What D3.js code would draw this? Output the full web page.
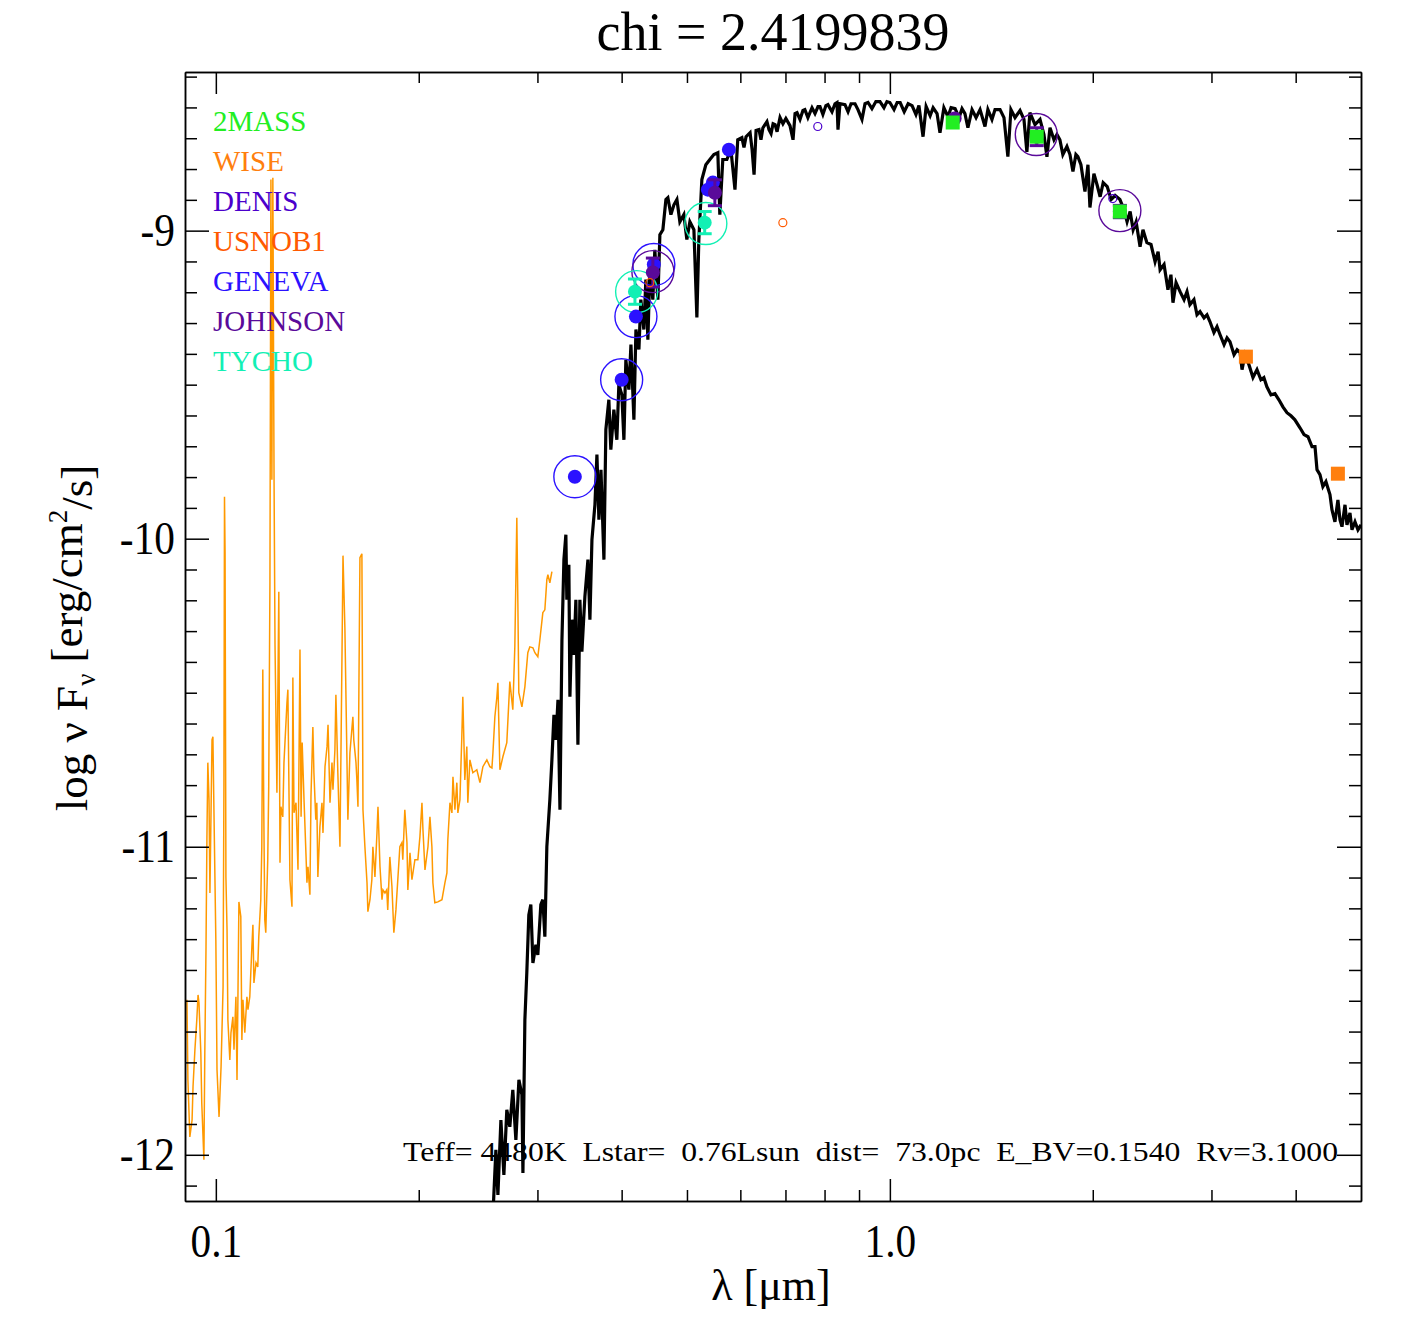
<!DOCTYPE html>
<html>
<head>
<meta charset="utf-8">
<script src="https://cdn.jsdelivr.net/npm/d3@7"></script>
<style>
  body { margin: 0; background: #fff; }
  svg text { font-family: "Liberation Serif", "Times New Roman", serif; }
</style>
</head>
<body>
<svg id="sed" width="1417" height="1337"></svg>
<script>
// ---- data (wavelength in micron, log nu F_nu) ----
const titleText = "chi = 2.4199839";
const paramText = "Teff= 4480K  Lstar=  0.76Lsun  dist=  73.0pc  E_BV=0.1540  Rv=3.1000";

const xMajorTicks = [0.1, 1.0];
const xMinorTicks = [0.2, 0.3, 0.4, 0.5, 0.6, 0.7, 0.8, 0.9, 2, 3, 4];
const yMajorTicks = [-12, -11, -10, -9];

const surveys = ["2MASS", "WISE", "DENIS", "USNOB1", "GENEVA", "JOHNSON", "TYCHO"];
const surveyColors = ["#22ee22", "#ff7f0e", "#4b00cc", "#ff5a00", "#2b12ff", "#5a0a9a", "#12f0b4"];

// model atmosphere (black)
const modelSpec = [
  [0.2577,-12.195],[0.2603,-11.984],[0.2621,-12.130],[0.2648,-11.887],[0.2675,-12.065],[0.2702,-11.854],
  [0.2730,-11.909],[0.2758,-11.789],[0.2787,-11.952],[0.2816,-11.757],[0.2845,-11.805],[0.2855,-12.059],
  [0.2874,-11.562],[0.2893,-11.409],[0.2913,-11.221],[0.2933,-11.188],[0.2954,-11.377],[0.2984,-11.318],
  [0.3004,-11.351],[0.3035,-11.188],[0.3056,-11.172],[0.3077,-11.292],[0.3098,-11.000],[0.3130,-10.848],
  [0.3152,-10.718],[0.3174,-10.572],[0.3196,-10.653],[0.3218,-10.523],[0.3240,-10.880],[0.3262,-10.328],
  [0.3284,-10.068],[0.3306,-9.987],[0.3317,-10.198],[0.3340,-10.085],[0.3352,-10.513],[0.3375,-10.263],
  [0.3398,-10.377],[0.3421,-10.198],[0.3445,-10.669],[0.3468,-10.198],[0.3492,-10.367],[0.3528,-10.188],
  [0.3565,-10.068],[0.3589,-10.263],[0.3614,-10.003],[0.3651,-9.890],[0.3676,-9.727],[0.3701,-9.938],
  [0.3727,-9.776],[0.3765,-10.068],[0.3790,-9.646],[0.3829,-9.549],[0.3855,-9.711],[0.3895,-9.581],
  [0.3935,-9.679],[0.3962,-9.500],[0.4003,-9.533],[0.4031,-9.679],[0.4058,-9.419],[0.4100,-9.516],
  [0.4129,-9.370],[0.4171,-9.614],[0.4200,-9.321],[0.4243,-9.386],[0.4271,-9.224],[0.4315,-9.321],
  [0.4345,-9.159],[0.4375,-9.354],[0.4405,-9.127],[0.4450,-9.224],[0.4480,-9.062],[0.4527,-9.224],
  [0.4558,-9.013],[0.4605,-8.997],[0.4653,-8.899],[0.4684,-8.893],[0.4733,-8.948],[0.4782,-8.916],
  [0.4831,-8.899],[0.4880,-8.971],[0.4947,-8.948],[0.4998,-9.029],[0.5050,-8.971],[0.5120,-8.997],
  [0.5172,-9.282],[0.5207,-9.029],[0.5261,-8.834],[0.5333,-8.786],[0.5407,-8.769],[0.5481,-8.753],
  [0.5556,-8.747],[0.5594,-8.948],[0.5651,-8.769],[0.5730,-8.769],[0.5810,-8.737],[0.5891,-8.867],
  [0.5947,-8.705],[0.6032,-8.698],[0.6075,-8.730],[0.6118,-8.695],[0.6203,-8.682],[0.6246,-8.737],
  [0.6288,-8.818],[0.6331,-8.675],[0.6395,-8.672],[0.6438,-8.705],[0.6481,-8.666],[0.6571,-8.646],
  [0.6617,-8.672],[0.6664,-8.685],[0.6710,-8.653],[0.6756,-8.656],[0.6802,-8.679],[0.6871,-8.633],
  [0.6940,-8.653],[0.7010,-8.636],[0.7109,-8.659],[0.7183,-8.705],[0.7233,-8.620],[0.7282,-8.617],
  [0.7356,-8.639],[0.7431,-8.610],[0.7480,-8.607],[0.7558,-8.633],[0.7664,-8.601],[0.7743,-8.620],
  [0.7823,-8.597],[0.7876,-8.597],[0.7955,-8.623],[0.8037,-8.594],[0.8093,-8.591],[0.8206,-8.614],
  [0.8291,-8.588],[0.8347,-8.584],[0.8376,-8.672],[0.8432,-8.588],[0.8578,-8.591],[0.8668,-8.614],
  [0.8757,-8.588],[0.8877,-8.588],[0.8967,-8.607],[0.9091,-8.639],[0.9186,-8.588],[0.9280,-8.584],
  [0.9406,-8.604],[0.9533,-8.581],[0.9667,-8.581],[0.9800,-8.601],[0.9900,-8.581],[1.0000,-8.584],
  [1.0143,-8.607],[1.0251,-8.584],[1.0358,-8.584],[1.0502,-8.614],[1.0645,-8.588],[1.0788,-8.594],
  [1.0932,-8.623],[1.1043,-8.594],[1.1200,-8.695],[1.1318,-8.597],[1.1475,-8.627],[1.1592,-8.601],
  [1.1749,-8.620],[1.1867,-8.682],[1.2026,-8.601],[1.2197,-8.630],[1.2325,-8.601],[1.2496,-8.604],
  [1.2667,-8.633],[1.2795,-8.604],[1.2923,-8.620],[1.3055,-8.666],[1.3240,-8.607],[1.3424,-8.633],
  [1.3608,-8.607],[1.3839,-8.662],[1.3977,-8.607],[1.4173,-8.639],[1.4322,-8.607],[1.4569,-8.607],
  [1.4767,-8.633],[1.4965,-8.760],[1.5122,-8.607],[1.5334,-8.633],[1.5598,-8.610],[1.5810,-8.639],
  [1.5968,-8.744],[1.6136,-8.617],[1.6418,-8.656],[1.6701,-8.639],[1.6927,-8.688],[1.7101,-8.760],
  [1.7280,-8.666],[1.7518,-8.705],[1.7697,-8.688],[1.7875,-8.705],[1.8057,-8.753],[1.8310,-8.727],
  [1.8500,-8.753],[1.8690,-8.808],[1.8880,-8.753],[1.9007,-8.760],[1.9207,-8.786],[1.9473,-8.873],
  [1.9673,-8.786],[1.9807,-8.925],[2.0079,-8.815],[2.0294,-8.851],[2.0509,-8.890],[2.0724,-8.844],
  [2.1011,-8.857],[2.1297,-8.899],[2.1584,-8.886],[2.1943,-8.899],[2.2251,-8.932],[2.2486,-8.971],
  [2.2722,-8.938],[2.2957,-8.997],[2.3192,-8.971],[2.3506,-9.052],[2.3741,-8.997],[2.4060,-9.039],
  [2.4402,-9.045],[2.4744,-9.101],[2.5000,-9.068],[2.5171,-9.127],[2.5513,-9.110],[2.5855,-9.192],
  [2.6120,-9.143],[2.6304,-9.234],[2.6581,-9.169],[2.6949,-9.198],[2.7318,-9.224],[2.7595,-9.198],
  [2.7871,-9.240],[2.8257,-9.224],[2.8554,-9.273],[2.8851,-9.263],[2.9248,-9.283],[2.9545,-9.273],
  [2.9842,-9.295],[3.0255,-9.331],[3.0574,-9.312],[3.0894,-9.338],[3.1319,-9.370],[3.1638,-9.348],
  [3.1957,-9.361],[3.2404,-9.403],[3.2742,-9.387],[3.3079,-9.396],[3.3303,-9.451],[3.3640,-9.403],
  [3.4095,-9.435],[3.4571,-9.477],[3.5048,-9.451],[3.5524,-9.484],[3.5881,-9.477],[3.6253,-9.507],
  [3.6759,-9.533],[3.7266,-9.529],[3.7772,-9.549],[3.8293,-9.572],[3.8827,-9.591],[3.9360,-9.601],
  [3.9893,-9.614],[4.0592,-9.640],[4.1155,-9.662],[4.1718,-9.669],[4.2292,-9.701],[4.2730,-9.701],
  [4.3022,-9.776],[4.3460,-9.792],[4.3898,-9.831],[4.4354,-9.815],[4.4969,-9.857],[4.5277,-9.906],
  [4.5738,-9.945],[4.6210,-9.874],[4.6532,-9.938],[4.6855,-9.961],[4.7339,-9.890],[4.7661,-9.955],
  [4.8150,-9.916],[4.8483,-9.971],[4.8983,-9.945],[4.9483,-9.971],[5.0000,-9.955]
];

// UV spectrum (orange)
const uvSpec = [
  [0.0906,-11.497],[0.0909,-11.757],[0.0915,-11.942],[0.0922,-11.887],[0.0925,-11.779],[0.0931,-11.659],
  [0.0937,-11.562],[0.0941,-11.481],[0.0944,-11.507],[0.0950,-11.669],[0.0953,-11.831],[0.0960,-12.016],
  [0.0963,-11.669],[0.0967,-11.325],[0.0970,-10.968],[0.0973,-10.727],[0.0977,-10.848],[0.0980,-11.150],
  [0.0987,-10.653],[0.0990,-10.643],[0.0993,-10.848],[0.1000,-11.302],[0.1004,-11.724],[0.1011,-11.877],
  [0.1018,-11.714],[0.1025,-11.455],[0.1028,-10.805],[0.1030,-9.864],[0.1032,-10.042],[0.1035,-11.098],
  [0.1039,-11.270],[0.1042,-11.562],[0.1049,-11.692],[0.1053,-11.604],[0.1060,-11.552],[0.1064,-11.659],
  [0.1071,-11.487],[0.1075,-11.757],[0.1078,-11.520],[0.1082,-11.179],[0.1089,-11.227],[0.1093,-11.627],
  [0.1097,-11.497],[0.1104,-11.604],[0.1112,-11.487],[0.1116,-11.529],[0.1123,-11.487],[0.1131,-11.325],
  [0.1135,-11.253],[0.1139,-11.442],[0.1147,-11.377],[0.1154,-11.390],[0.1158,-11.292],[0.1166,-11.172],
  [0.1170,-11.000],[0.1174,-10.425],[0.1178,-10.890],[0.1182,-11.237],[0.1186,-11.279],[0.1194,-11.042],
  [0.1198,-10.805],[0.1203,-10.140],[0.1207,-8.834],[0.1211,-9.809],[0.1215,-8.828],[0.1220,-9.809],
  [0.1224,-10.344],[0.1232,-10.825],[0.1240,-10.172],[0.1245,-11.052],[0.1249,-10.870],[0.1257,-10.903],
  [0.1262,-10.727],[0.1275,-10.533],[0.1279,-10.490],[0.1288,-11.107],[0.1297,-11.195],[0.1301,-10.451],
  [0.1306,-10.890],[0.1315,-10.857],[0.1324,-11.075],[0.1333,-10.360],[0.1338,-10.903],[0.1343,-10.662],
  [0.1352,-10.857],[0.1361,-11.033],[0.1365,-11.117],[0.1370,-11.065],[0.1379,-11.156],[0.1384,-10.838],
  [0.1393,-10.611],[0.1398,-10.760],[0.1407,-10.912],[0.1412,-10.857],[0.1417,-11.098],[0.1427,-10.935],
  [0.1437,-10.857],[0.1442,-10.955],[0.1452,-10.740],[0.1462,-10.675],[0.1467,-10.604],[0.1477,-10.857],
  [0.1487,-10.727],[0.1492,-10.815],[0.1502,-10.685],[0.1507,-10.507],[0.1517,-10.760],[0.1528,-11.000],
  [0.1539,-10.360],[0.1544,-10.055],[0.1554,-10.289],[0.1560,-10.523],[0.1565,-10.718],[0.1570,-10.912],
  [0.1581,-10.695],[0.1597,-10.578],[0.1602,-10.653],[0.1614,-10.727],[0.1619,-10.783],[0.1625,-10.870],
  [0.1636,-10.062],[0.1647,-10.049],[0.1653,-10.880],[0.1664,-11.000],[0.1676,-11.117],[0.1681,-11.211],
  [0.1693,-11.172],[0.1704,-11.107],[0.1710,-11.000],[0.1722,-11.098],[0.1734,-10.955],[0.1740,-10.870],
  [0.1752,-11.065],[0.1764,-11.172],[0.1770,-11.140],[0.1782,-11.150],[0.1793,-11.140],[0.1799,-11.205],
  [0.1812,-11.033],[0.1825,-11.130],[0.1837,-11.279],[0.1850,-11.205],[0.1863,-11.098],[0.1875,-11.000],
  [0.1888,-10.987],[0.1894,-11.042],[0.1907,-10.880],[0.1921,-10.987],[0.1927,-11.140],[0.1941,-11.020],
  [0.1954,-11.107],[0.1974,-11.042],[0.1994,-11.042],[0.2008,-10.968],[0.2022,-10.857],[0.2029,-10.945],
  [0.2043,-11.075],[0.2064,-11.000],[0.2078,-10.903],[0.2092,-11.000],[0.2099,-11.117],[0.2113,-11.182],
  [0.2135,-11.179],[0.2165,-11.172],[0.2187,-11.117],[0.2202,-11.085],[0.2209,-10.977],[0.2225,-10.857],
  [0.2240,-10.890],[0.2248,-10.773],[0.2263,-10.880],[0.2278,-10.792],[0.2286,-10.890],[0.2302,-10.848],
  [0.2317,-10.643],[0.2325,-10.513],[0.2341,-10.783],[0.2357,-10.675],[0.2365,-10.857],[0.2382,-10.718],
  [0.2406,-10.760],[0.2439,-10.750],[0.2465,-10.792],[0.2490,-10.740],[0.2524,-10.718],[0.2550,-10.740],
  [0.2568,-10.744],[0.2577,-10.695],[0.2594,-10.578],[0.2612,-10.513],[0.2621,-10.468],[0.2639,-10.750],
  [0.2666,-10.708],[0.2702,-10.662],[0.2730,-10.464],[0.2758,-10.555],[0.2777,-10.351],[0.2796,-9.932],
  [0.2806,-10.208],[0.2815,-10.500],[0.2845,-10.546],[0.2874,-10.481],[0.2903,-10.370],[0.2923,-10.351],
  [0.2954,-10.354],[0.2974,-10.370],[0.3004,-10.383],[0.3025,-10.328],[0.3056,-10.240],[0.3077,-10.231],
  [0.3098,-10.133],[0.3109,-10.117],[0.3130,-10.143],[0.3152,-10.107]
];

// observed photometry: [lambda, logF, error]
const obs2MASS   = [[1.2394,-8.649,0],[1.6514,-8.695,0],[2.194,-8.938,0]];
const obsWISE    = [[3.3745,-9.409,0],[4.6204,-9.789,0]];
const obsDENIS   = [[0.7817,-8.662,0],[2.1414,-8.896,0]];
const obsUSNOB1  = [[0.6938,-8.974,0],[0.4405,-9.169,0]];
const obsGENEVA  = [[0.3409,-9.799,0],[0.400,-9.484,0],[0.420,-9.279,0],[0.4465,-9.110,0],
                    [0.537,-8.867,0],[0.5463,-8.844,0],[0.577,-8.737,0]];
const obsJOHNSON = [[0.445,-9.136,0.047],[0.550,-8.877,0.042],[1.2476,-8.636,0],
                    [1.6514,-8.695,0.029],[2.194,-8.938,0.02]];
const obsTYCHO   = [[0.4186,-9.198,0.041],[0.5312,-8.974,0.036]];

// synthetic photometry (large open circles)
const synGENEVA  = [[0.3409,-9.799],[0.400,-9.484],[0.420,-9.279],[0.4465,-9.110]];
const synJOHNSON = [[0.445,-9.133],[1.649,-8.688],[2.194,-8.935]];
const synTYCHO   = [[0.421,-9.198],[0.5333,-8.977]];

// ---- drawing ----
const svg = d3.select("#sed");
const m = { left: 185, right: 1361, top: 72, bottom: 1201 };

const x = d3.scaleLog().domain([0.09, 5.0]).range([m.left, m.right]);
const y = d3.scaleLinear().domain([-12.15, -8.485]).range([m.bottom, m.top]);
const col = name => surveyColors[surveys.indexOf(name)];

svg.append("defs").append("clipPath").attr("id", "plotclip")
  .append("rect")
  .attr("x", m.left).attr("y", m.top)
  .attr("width", m.right - m.left).attr("height", m.bottom - m.top);

const plot = svg.append("g").attr("clip-path", "url(#plotclip)");
const line = d3.line().x(d => x(d[0])).y(d => y(d[1]));

plot.append("path").datum(uvSpec)
  .attr("d", line).attr("fill", "none")
  .attr("stroke", "#ff9900").attr("stroke-width", 1.5);

plot.append("path").datum(modelSpec)
  .attr("d", line).attr("fill", "none")
  .attr("stroke", "#000").attr("stroke-width", 3.2);

// big open circles
[[synGENEVA, "GENEVA"], [synJOHNSON, "JOHNSON"], [synTYCHO, "TYCHO"]].forEach(([pts, name]) => {
  plot.selectAll(null).data(pts).enter().append("circle")
    .attr("cx", d => x(d[0])).attr("cy", d => y(d[1])).attr("r", 21)
    .attr("fill", "none").attr("stroke", col(name)).attr("stroke-width", 1.4);
});

function errorBars(pts, color) {
  const g = plot.append("g").attr("stroke", color).attr("stroke-width", 3);
  pts.filter(d => d[2] > 0).forEach(d => {
    const cx = x(d[0]);
    g.append("line").attr("x1", cx).attr("x2", cx)
      .attr("y1", y(d[1] - d[2])).attr("y2", y(d[1] + d[2]));
    [d[1] - d[2], d[1] + d[2]].forEach(v => {
      g.append("line").attr("x1", cx - 7).attr("x2", cx + 7)
        .attr("y1", y(v)).attr("y2", y(v));
    });
  });
}

function filledCircles(pts, color, r) {
  plot.selectAll(null).data(pts).enter().append("circle")
    .attr("cx", d => x(d[0])).attr("cy", d => y(d[1])).attr("r", r)
    .attr("fill", color);
}

function openCircles(pts, color) {
  plot.selectAll(null).data(pts).enter().append("circle")
    .attr("cx", d => x(d[0])).attr("cy", d => y(d[1])).attr("r", 4)
    .attr("fill", "none").attr("stroke", color).attr("stroke-width", 1.2);
}

function squares(pts, color) {
  plot.selectAll(null).data(pts).enter().append("rect")
    .attr("x", d => x(d[0]) - 7).attr("y", d => y(d[1]) - 7)
    .attr("width", 14).attr("height", 14).attr("fill", color);
}

filledCircles(obsGENEVA, col("GENEVA"), 7);
errorBars(obsJOHNSON, col("JOHNSON"));
filledCircles(obsJOHNSON, col("JOHNSON"), 7);
errorBars(obsTYCHO, col("TYCHO"));
filledCircles(obsTYCHO, col("TYCHO"), 7);
openCircles(obsDENIS, col("DENIS"));
openCircles(obsUSNOB1, col("USNOB1"));
squares(obs2MASS, col("2MASS"));
squares(obsWISE, col("WISE"));

// ---- axes ----
function styleAxis(g) {
  g.attr("font-family", null).attr("font-size", null);
  g.selectAll(".domain").attr("stroke", "#000").attr("stroke-width", 1.5);
  g.selectAll(".tick line").attr("stroke", "#000").attr("stroke-width", 1.5);
  g.selectAll(".tick text").attr("fill", "#000").style("font-size", "47px")
    .each(function () {
      // IDL labels are narrower than the serif font
      this.setAttribute("textLength", this.getComputedTextLength() * 0.88);
      this.setAttribute("lengthAdjust", "spacingAndGlyphs");
    });
}

const yMinor = d3.range(-121, -84).map(d => d / 10).filter(v => !yMajorTicks.includes(v));

svg.append("g").attr("transform", `translate(0,${m.bottom})`)
  .call(d3.axisBottom(x).tickValues(xMinorTicks).tickSize(-11).tickSizeOuter(0).tickFormat(""))
  .call(styleAxis);
svg.append("g").attr("transform", `translate(0,${m.bottom})`)
  .call(d3.axisBottom(x).tickValues(xMajorTicks).tickSize(-22).tickSizeOuter(0)
    .tickPadding(23).tickFormat(d3.format(".1f")))
  .call(styleAxis);

svg.append("g").attr("transform", `translate(0,${m.top})`)
  .call(d3.axisTop(x).tickValues(xMinorTicks).tickSize(-11).tickSizeOuter(0).tickFormat(""))
  .call(styleAxis);
svg.append("g").attr("transform", `translate(0,${m.top})`)
  .call(d3.axisTop(x).tickValues(xMajorTicks).tickSize(-22).tickSizeOuter(0).tickFormat(""))
  .call(styleAxis);

svg.append("g").attr("transform", `translate(${m.left},0)`)
  .call(d3.axisLeft(y).tickValues(yMinor).tickSize(-12).tickSizeOuter(0).tickFormat(""))
  .call(styleAxis);
svg.append("g").attr("transform", `translate(${m.left},0)`)
  .call(d3.axisLeft(y).tickValues(yMajorTicks).tickSize(-24).tickSizeOuter(0)
    .tickPadding(10).tickFormat(d => String(d)))
  .call(styleAxis);

svg.append("g").attr("transform", `translate(${m.right},0)`)
  .call(d3.axisRight(y).tickValues(yMinor).tickSize(-12).tickSizeOuter(0).tickFormat(""))
  .call(styleAxis);
svg.append("g").attr("transform", `translate(${m.right},0)`)
  .call(d3.axisRight(y).tickValues(yMajorTicks).tickSize(-24).tickSizeOuter(0).tickFormat(""))
  .call(styleAxis);

// ---- text ----
svg.append("text").attr("x", 773).attr("y", 50)
  .attr("text-anchor", "middle").style("font-size", "54px").text(titleText);

svg.append("text").attr("x", 771).attr("y", 1300)
  .attr("text-anchor", "middle").style("font-size", "44px").text("λ [μm]");

const ylab = svg.append("text")
  .attr("transform", "translate(87,638) rotate(-90)")
  .attr("text-anchor", "middle").style("font-size", "45px");
ylab.append("tspan").text("log ν F");
ylab.append("tspan").attr("dy", "0.3em").style("font-size", "27px").text("ν");
ylab.append("tspan").attr("dy", "-0.3em").text(" [erg/cm");
ylab.append("tspan").attr("dy", "-0.55em").style("font-size", "27px").text("2");
ylab.append("tspan").attr("dy", "0.55em").text("/s]");

svg.selectAll(".legend").data(surveys).enter().append("text")
  .attr("class", "legend")
  .attr("x", 213).attr("y", (d, i) => 131 + i * 40)
  .attr("fill", (d, i) => surveyColors[i])
  .style("font-size", "29px").text(d => d);

svg.append("text").attr("x", 403).attr("y", 1161)
  .style("font-size", "28px").style("white-space", "pre")
  .attr("textLength", 935).attr("lengthAdjust", "spacingAndGlyphs")
  .text(paramText);
</script>
</body>
</html>
